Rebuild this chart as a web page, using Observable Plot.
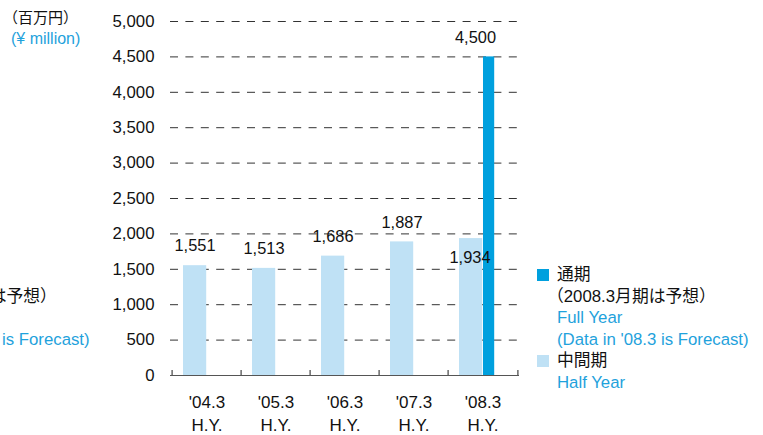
<!DOCTYPE html>
<html>
<head>
<meta charset="utf-8">
<script src="https://cdn.jsdelivr.net/npm/d3@7"></script>
<script src="https://cdn.jsdelivr.net/npm/@observablehq/plot@0.6"></script>
<style>
  html, body { margin: 0; padding: 0; background: #fff; }
  #wrap { position: relative; width: 763px; height: 435px; overflow: hidden; font-family: "Liberation Sans", Arial, "Noto Sans CJK JP", sans-serif; }
  #chart { position: absolute; left: 0; top: 0; }
  .abs { position: absolute; white-space: nowrap; }
  .jp { font-family: "Liberation Sans", "Noto Sans CJK JP", sans-serif; color: #111; }
  .blue { color: #1fa2dc; }
  .legend { position: absolute; top: 264px; font-size: 16.8px; line-height: 21.6px; }
  .legend .row { position: relative; padding-left: 20px; white-space: nowrap; }
  .legend .sw { position: absolute; left: 0; top: 5px; width: 12px; height: 12px; }
</style>
</head>
<body>
<div id="wrap">
  <div id="chart"></div>
  <div class="abs jp" style="left:3px; top:9px; font-size:15px; line-height:18px;">（百万円）</div>
  <div class="abs blue" style="left:11px; top:30px; font-size:16px; line-height:18px;">(¥ million)</div>
  <div id="legend"></div>
</div>
<script>
const categories = ["'04.3", "'05.3", "'06.3", "'07.3", "'08.3"];
const categorySub = "H.Y.";
const halfYear = [1551, 1513, 1686, 1887, 1934];
const fullYear = [null, null, null, null, 4500];
const yTicks = [0, 500, 1000, 1500, 2000, 2500, 3000, 3500, 4000, 4500, 5000];
const legendFull = ["通期", "（2008.3月期は予想）", "Full Year", "(Data in '08.3 is Forecast)"];
const legendHalf = ["中間期", "Half Year"];

const lightBlue = "#bfe1f5";
const darkBlue = "#00a0de";

const halfData = categories.map((c, i) => ({cat: c, value: halfYear[i]}));
const fullData = categories.map((c, i) => ({cat: c, value: fullYear[i]})).filter(d => d.value != null);
const halfNormal = halfData.slice(0, 4);
const halfLast = halfData.slice(4);

const W = 763, H = 435, mL = 170, mR = 244, mT = 21, mB = 60;
const band = (W - mL - mR) / categories.length;

const chart = Plot.plot({
  width: W, height: H,
  marginLeft: mL, marginRight: mR, marginTop: mT, marginBottom: mB,
  style: {fontFamily: "'Liberation Sans', Arial, sans-serif", fontSize: "16px", color: "#111", background: "transparent", overflow: "visible"},
  x: {domain: categories, padding: 0, axis: null},
  y: {domain: [0, 5000], axis: null},
  marks: [
    Plot.ruleY(yTicks.filter(d => d > 0), {stroke: "#333", strokeWidth: 1, strokeDasharray: "8,7.4"}),
    Plot.barY(halfData, {x: "cat", y: "value", fill: lightBlue, insetLeft: 11, insetRight: band - 35}),
    Plot.barY(fullData, {x: "cat", y: "value", fill: darkBlue, insetLeft: 35, insetRight: band - 47}),
    Plot.ruleY([0], {stroke: "#555", strokeWidth: 1.2}),
    Plot.ruleX(categories, {x: d => d, y1: 0, y2: 0, insetTop: -5, dx: -band / 2, stroke: "#444", strokeWidth: 1.2}),
    Plot.ruleX(categories.slice(-1), {x: d => d, y1: 0, y2: 0, insetTop: -5, dx: band / 2, stroke: "#444", strokeWidth: 1.2}),
    Plot.axisY({ticks: yTicks, tickSize: 0, tickPadding: 16, tickFormat: d3.format(","), fontSize: 16.8, fill: "#111", label: null}),
    Plot.text(categories, {x: d => d, y: 0, text: d => d + "\n" + categorySub, dy: 36.5, lineHeight: 1.36, fontSize: 17, fill: "#111"}),
    Plot.text(halfNormal, {x: "cat", y: "value", text: d => d3.format(",")(d.value), dx: -12, dy: -19.5, fontSize: 16.4, fill: "#111"}),
    Plot.text(halfLast, {x: "cat", y: "value", text: d => d3.format(",")(d.value), dx: -13, dy: 19, fontSize: 16.4, fill: "#111"}),
    Plot.text(fullData, {x: "cat", y: "value", text: d => d3.format(",")(d.value), dx: -7.5, dy: -19.5, fontSize: 16.4, fill: "#111"})
  ]
});
document.getElementById("chart").appendChild(chart);

function makeLegend(left) {
  const el = document.createElement("div");
  el.className = "legend";
  el.style.left = left + "px";
  el.innerHTML =
    `<div class="row"><span class="sw" style="background:${darkBlue}"></span><span class="jp">${legendFull[0]}</span></div>` +
    `<div class="row"><span class="jp" style="margin-left:-10px;">${legendFull[1]}</span></div>` +
    `<div class="row blue">${legendFull[2]}</div>` +
    `<div class="row blue">${legendFull[3]}</div>` +
    `<div class="row"><span class="sw" style="background:${lightBlue}"></span><span class="jp">${legendHalf[0]}</span></div>` +
    `<div class="row blue">${legendHalf[1]}</div>`;
  return el;
}
const wrap = document.getElementById("wrap");
wrap.appendChild(makeLegend(537));
wrap.appendChild(makeLegend(537 - 659));
</script>
</body>
</html>
